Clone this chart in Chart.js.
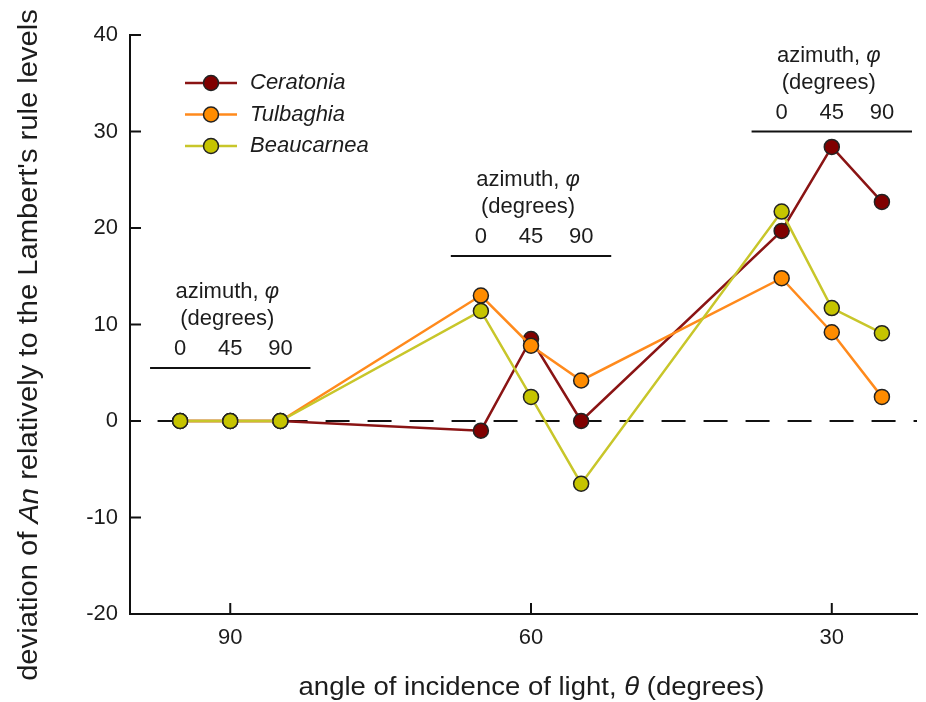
<!DOCTYPE html>
<html>
<head>
<meta charset="utf-8">
<script src="https://cdn.jsdelivr.net/npm/chart.js@4.4.1/dist/chart.umd.min.js"></script>
<style>
  html, body { margin: 0; padding: 0; background: #fff; }
  #chart { display: block; }
</style>
</head>
<body>
<canvas id="chart" width="926" height="702"></canvas>
<script>
// angle of incidence groups and azimuths inside each group
const thetaLevels = [90, 60, 30];
const azimuthLevels = [0, 45, 90];
// plotted x position of each point (theta, spread by azimuth)
const xPositions = [95, 90, 85, 65, 60, 55, 35, 30, 25];

const ceratonia  = [0, 0, 0, -1.0, 8.5, 0.0, 19.7, 28.4, 22.7];
const tulbaghia  = [0, 0, 0, 13.0, 7.8, 4.2, 14.8, 9.2, 2.5];
const beaucarnea = [0, 0, 0, 11.4, 2.5, -6.5, 21.7, 11.7, 9.1];

const yTicks = [-20, -10, 0, 10, 20, 30, 40];
// height (in y units) of the "azimuth" bar above each theta group
const azimuthBarY = [5.5, 17.1, 30.0];

const FONT = "'Liberation Sans', Arial, sans-serif";
const INK = '#1c1c1c';

function pts(values) {
    return values.map((v, i) => ({ x: xPositions[i], y: v }));
}

const series = [
    { label: 'Ceratonia', data: ceratonia, fill: '#800000', line: '#8a1414', order: 3 },
    { label: 'Tulbaghia', data: tulbaghia, fill: '#ff8c00', line: '#ff8a1c', order: 2 },
    { label: 'Beaucarnea', data: beaucarnea, fill: '#c6c400', line: '#c8c62a', order: 1 }
];

// draws dashed zero line, inward ticks, azimuth notes, legend and titles
const decor = {
    id: 'decor',
    beforeDatasetsDraw(chart) {
        const ctx = chart.ctx;
        const xs = chart.scales.x, ys = chart.scales.y;
        const area = chart.chartArea;
        ctx.save();

        // zero line
        ctx.strokeStyle = '#111';
        ctx.lineWidth = 2;
        ctx.setLineDash([24, 18]);
        ctx.beginPath();
        ctx.moveTo(xs.getPixelForValue(97.25), ys.getPixelForValue(0));
        ctx.lineTo(area.right, ys.getPixelForValue(0));
        ctx.stroke();
        ctx.setLineDash([]);

        // inward ticks
        ctx.lineWidth = 2;
        thetaLevels.forEach(t => {
            const x = xs.getPixelForValue(t);
            ctx.beginPath();
            ctx.moveTo(x, area.bottom);
            ctx.lineTo(x, area.bottom - 11);
            ctx.stroke();
        });
        yTicks.forEach(v => {
            const y = ys.getPixelForValue(v);
            ctx.beginPath();
            ctx.moveTo(area.left, y);
            ctx.lineTo(area.left + 11, y);
            ctx.stroke();
        });

        // azimuth notes
        ctx.fillStyle = INK;
        ctx.textBaseline = 'middle';
        thetaLevels.forEach((t, g) => {
            const yb = ys.getPixelForValue(azimuthBarY[g]);
            ctx.beginPath();
            ctx.moveTo(xs.getPixelForValue(t + 8), yb);
            ctx.lineTo(xs.getPixelForValue(t - 8), yb);
            ctx.stroke();

            ctx.font = '22px ' + FONT;
            ctx.textAlign = 'center';
            azimuthLevels.forEach((a, k) => {
                ctx.fillText(String(a), xs.getPixelForValue(xPositions[g * 3 + k]), yb - 19);
            });
            const cx = xs.getPixelForValue(t) - 3;
            ctx.fillText('(degrees)', cx, yb - 49);

            ctx.textAlign = 'left';
            const a1 = 'azimuth, ';
            ctx.font = '22px ' + FONT;
            const w1 = ctx.measureText(a1).width;
            ctx.font = 'italic 22px ' + FONT;
            const w2 = ctx.measureText('φ').width;
            const sx = cx - (w1 + w2) / 2;
            ctx.font = '22px ' + FONT;
            ctx.fillText(a1, sx, yb - 76);
            ctx.font = 'italic 22px ' + FONT;
            ctx.fillText('φ', sx + w1, yb - 76);
        });
        ctx.restore();
    },
    afterDraw(chart) {
        const ctx = chart.ctx;
        const area = chart.chartArea;
        ctx.save();

        // legend
        ctx.textBaseline = 'middle';
        ctx.textAlign = 'left';
        series.forEach((s, i) => {
            const y = area.top + 48 + i * 31.5;
            const x0 = area.left + 55;
            ctx.strokeStyle = s.line;
            ctx.lineWidth = 2.5;
            ctx.beginPath();
            ctx.moveTo(x0, y);
            ctx.lineTo(x0 + 52, y);
            ctx.stroke();
            ctx.beginPath();
            ctx.arc(x0 + 26, y, 7.5, 0, Math.PI * 2);
            ctx.fillStyle = s.fill;
            ctx.fill();
            ctx.strokeStyle = '#222';
            ctx.lineWidth = 1.5;
            ctx.stroke();
            ctx.fillStyle = INK;
            ctx.font = 'italic 22px ' + FONT;
            ctx.fillText(s.label, x0 + 65, y);
        });

        // x title
        const xParts = [
            ['angle of incidence of light, ', ''],
            ['θ', 'italic '],
            [' (degrees)', '']
        ];
        drawParts(ctx, xParts, 25, 1.1, (area.left + area.right) / 2 + 8, 688, 0);

        // y title
        const yParts = [
            ['deviation of ', ''],
            ['An', 'italic '],
            [' relatively to the Lambert\'s rule levels', '']
        ];
        drawParts(ctx, yParts, 27, 1.08, 30, 345, -Math.PI / 2);
        ctx.restore();
    }
};

function drawParts(ctx, parts, size, stretch, cx, cy, rot) {
    ctx.save();
    ctx.translate(cx, cy);
    ctx.rotate(rot);
    ctx.scale(stretch, 1);
    ctx.fillStyle = INK;
    ctx.textBaseline = 'middle';
    ctx.textAlign = 'left';
    let total = 0;
    parts.forEach(p => {
        ctx.font = p[1] + size + 'px ' + FONT;
        total += ctx.measureText(p[0]).width;
    });
    let x = -total / 2;
    parts.forEach(p => {
        ctx.font = p[1] + size + 'px ' + FONT;
        ctx.fillText(p[0], x, 0);
        x += ctx.measureText(p[0]).width;
    });
    ctx.restore();
}

new Chart(document.getElementById('chart'), {
    type: 'line',
    data: {
        datasets: series.map(s => ({
            label: s.label,
            data: pts(s.data),
            borderColor: s.line,
            backgroundColor: s.fill,
            borderWidth: 2.5,
            pointRadius: 7.5,
            pointBackgroundColor: s.fill,
            pointBorderColor: '#222',
            pointBorderWidth: 1.5,
            tension: 0,
            fill: false,
            order: s.order
        }))
    },
    options: {
        responsive: false,
        animation: false,
        layout: { padding: { top: 35, right: 6, left: 0, bottom: 0 } },
        plugins: { legend: { display: false }, tooltip: { enabled: false } },
        scales: {
            x: {
                type: 'linear',
                reverse: true,
                min: 21.5,
                max: 100,
                afterBuildTicks(scale) {
                    scale.ticks = thetaLevels.map(v => ({ value: v }));
                },
                afterFit(scale) { scale.height = 88; },
                grid: { display: false, drawTicks: false },
                border: { display: true, color: '#111', width: 2 },
                ticks: {
                    padding: 11,
                    color: INK,
                    font: { family: FONT, size: 22 }
                }
            },
            y: {
                min: -20,
                max: 40,
                afterBuildTicks(scale) {
                    scale.ticks = yTicks.map(v => ({ value: v }));
                },
                afterFit(scale) { scale.width = 130; },
                grid: { display: false, drawTicks: false },
                border: { display: true, color: '#111', width: 2 },
                ticks: {
                    padding: 12,
                    color: INK,
                    font: { family: FONT, size: 22 }
                }
            }
        }
    },
    plugins: [decor]
});
</script>
</body>
</html>
